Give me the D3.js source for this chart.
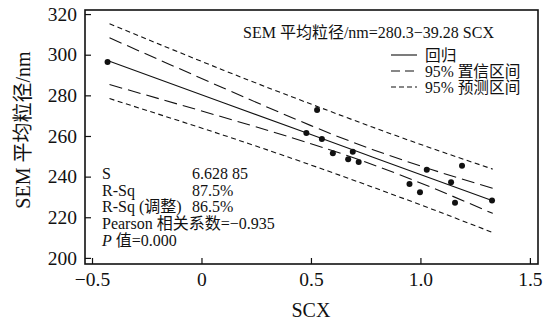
<!DOCTYPE html>
<html>
<head>
<meta charset="utf-8">
<script src="https://cdn.jsdelivr.net/npm/d3@7"></script>
<style>
  body { margin: 0; background: #fff; }
  svg { display: block; }
  text { font-family: "Liberation Serif", "Times New Roman", "Noto Sans CJK SC", serif; fill: #111; }
</style>
</head>
<body>
<svg id="chart" width="550" height="324"></svg>
<script>
// observed points (SCX, SEM mean particle size / nm)
const scx  = [-0.429, 0.528, 0.479, 0.550, 0.600, 0.691, 0.670, 0.718, 1.029, 1.190, 0.950, 0.998, 1.140, 1.158, 1.327];
const sem  = [296.4, 272.8, 261.5, 258.5, 251.5, 252.3, 248.5, 247.2, 243.4, 245.4, 236.4, 232.3, 237.2, 227.2, 228.2];

// band curves at a few x positions
const bandX     = [-0.42, 0.1, 0.5, 0.78, 1.05, 1.33];
const fitY      = [296.8, 276.4, 260.7, 249.7, 239.1, 228.1];
const confUpper = [308.3, 283.6, 265.1, 253.4, 243.5, 234.3];
const confLower = [285.3, 269.2, 256.2, 246.0, 234.7, 221.9];
const predUpper = [315.2, 292.4, 275.7, 264.4, 254.0, 243.7];
const predLower = [278.4, 260.4, 245.7, 234.9, 224.1, 212.5];

const xTicks = [-0.5, 0, 0.5, 1.0, 1.5];
const xTickLabels = ["\u22120.5", "0", "0.5", "1.0", "1.5"];
const yTicks = [200, 220, 240, 260, 280, 300, 320];

const equation = "SEM 平均粒径/nm=280.3\u221239.28 SCX";
const legendLabels = ["回归", "95% 置信区间", "95% 预测区间"];
const statNames  = ["S", "R-Sq", "R-Sq (调整)"];
const statValues = ["6.628 85", "87.5%", "86.5%"];

const svg = d3.select("#chart");
const margin = {top: 10, right: 12, bottom: 60, left: 85};
const W = 550, H = 324;
const plotW = W - margin.left - margin.right;
const plotH = H - margin.top - margin.bottom;

const x = d3.scaleLinear().domain([-0.532, 1.537]).range([0, plotW]);
const y = d3.scaleLinear().domain([197, 322]).range([plotH, 0]);

const g = svg.append("g").attr("transform", `translate(${margin.left},${margin.top})`);

// axes with inward ticks
const xAxis = g.append("g")
  .attr("transform", `translate(0,${plotH})`)
  .call(d3.axisBottom(x).tickValues(xTicks).tickSize(-6).tickPadding(8)
    .tickFormat((d, i) => xTickLabels[i]));
const yAxis = g.append("g")
  .call(d3.axisLeft(y).tickValues(yTicks).tickSize(-6).tickPadding(8));

[xAxis, yAxis].forEach(a => {
  a.select(".domain").remove();
  a.selectAll("line").attr("stroke", "#111").attr("stroke-width", 1.2);
  a.selectAll("text").style("font-size", "19.5px").attr("fill", "#111");
});

// frame
g.append("rect")
  .attr("width", plotW).attr("height", plotH)
  .attr("fill", "none").attr("stroke", "#111").attr("stroke-width", 1.6);

const line = d3.line()
  .x(d => x(d[0]))
  .y(d => y(d[1]))
  .curve(d3.curveNatural);

const series = [
  {vals: fitY, dash: null},
  {vals: confUpper, dash: "13,6"},
  {vals: confLower, dash: "13,6"},
  {vals: predUpper, dash: "5,3.5"},
  {vals: predLower, dash: "5,3.5"}
];

series.forEach(s => {
  g.append("path")
    .datum(bandX.map((bx, i) => [bx, s.vals[i]]))
    .attr("fill", "none")
    .attr("stroke", "#111")
    .attr("stroke-width", 1.1)
    .attr("stroke-dasharray", s.dash)
    .attr("d", line);
});

g.selectAll("circle.pt")
  .data(scx.map((v, i) => [v, sem[i]]))
  .join("circle")
  .attr("class", "pt")
  .attr("cx", d => x(d[0]))
  .attr("cy", d => y(d[1]))
  .attr("r", 3)
  .attr("fill", "#111");

// equation
g.append("text")
  .attr("x", 158).attr("y", 28)
  .style("font-size", "16px")
  .text(equation);

// legend
legendLabels.forEach((lab, i) => {
  const ly = 45 + i * 16;
  g.append("line")
    .attr("x1", 306).attr("x2", 332).attr("y1", ly).attr("y2", ly)
    .attr("stroke", "#111").attr("stroke-width", 1.1)
    .attr("stroke-dasharray", i === 2 ? "5,3" : (i === 1 ? "9,5" : null));
  g.append("text")
    .attr("x", 340).attr("y", ly + 5.5)
    .style("font-size", "15.7px")
    .text(lab);
});

// statistics block
const sx = 17, sy = 169, lh = 16.7;
statNames.forEach((n, i) => {
  g.append("text").attr("x", sx).attr("y", sy + i * lh).style("font-size", "16px").text(n);
  g.append("text").attr("x", 107).attr("y", sy + i * lh).style("font-size", "16px").text(statValues[i]);
});
g.append("text").attr("x", sx).attr("y", sy + 3 * lh).style("font-size", "16px")
  .text("Pearson 相关系数=\u22120.935");
const pt = g.append("text").attr("x", sx).attr("y", sy + 4 * lh).style("font-size", "16px");
pt.append("tspan").attr("font-style", "italic").text("P");
pt.append("tspan").text(" 值=0.000");

// axis titles
svg.append("text")
  .attr("x", margin.left + x(0.5)).attr("y", 317)
  .attr("text-anchor", "middle")
  .style("font-size", "20px")
  .text("SCX");
svg.append("text")
  .attr("transform", `translate(30,${margin.top + 120}) rotate(-90)`)
  .attr("text-anchor", "middle")
  .style("font-size", "20px")
  .text("SEM 平均粒径/nm");
</script>
</body>
</html>
